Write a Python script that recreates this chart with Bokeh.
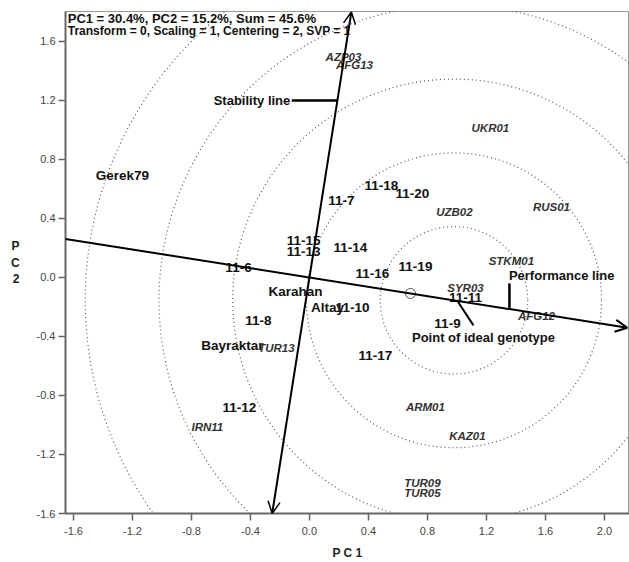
from bokeh.plotting import figure
from bokeh.models import Arrow, OpenHead, FixedTicker, PrintfTickFormatter, Range1d, ColumnDataSource
from bokeh.core.properties import value
from bokeh.embed import file_html
from bokeh.resources import INLINE

# ---------------- data ----------------
gen_names = ["Gerek79", "11-7", "11-18", "11-20", "11-15", "11-13", "11-14", "11-16",
             "11-19", "11-6", "Karahan", "Altay", "11-10", "11-11", "11-9", "11-17",
             "11-8", "Bayraktar", "11-12"]
gen_pc1 = [-1.268, 0.217, 0.488, 0.698, -0.040, -0.040, 0.278, 0.427,
           0.719, -0.481, -0.095, 0.122, 0.292, 1.058, 0.936, 0.447,
           -0.346, -0.522, -0.475]
gen_pc2 = [0.692, 0.522, 0.624, 0.569, 0.251, 0.176, 0.203, 0.027,
           0.075, 0.068, -0.095, -0.203, -0.203, -0.136, -0.312, -0.529,
           -0.292, -0.461, -0.881]

env_names = ["AZP03", "AFG13", "UKR01", "UZB02", "RUS01", "STKM01", "SYR03", "AFG12",
             "TUR13", "ARM01", "IRN11", "KAZ01", "TUR09", "TUR05"]
env_pc1 = [0.231, 0.305, 1.227, 0.983, 1.641, 1.369, 1.058, 1.539,
           -0.224, 0.786, -0.692, 1.071, 0.766, 0.766]
env_pc2 = [1.492, 1.437, 1.010, 0.441, 0.475, 0.115, -0.068, -0.258,
           -0.475, -0.881, -1.017, -1.078, -1.390, -1.464]

pc1_pct, pc2_pct = 30.4, 15.2
aea_slope = -0.158          # average environment axis through origin
avg_env_pc1 = 0.685         # small circle on the AEA
ideal_pc1 = 0.98            # ideal genotype (circle centre) on the AEA
circle_radii = [0.5, 1.0, 1.5, 2.0, 2.5]
x_ticks = [-1.6, -1.2, -0.8, -0.4, 0.0, 0.4, 0.8, 1.2, 1.6, 2.0]
y_ticks = [-1.6, -1.2, -0.8, -0.4, 0.0, 0.4, 0.8, 1.2, 1.6]

X0, X1 = -1.654, 2.170
Y0, Y1 = -1.6, 1.803

FONT = value("Liberation Sans")

p = figure(width=629, height=562, output_backend="svg", toolbar_location=None,
           x_range=Range1d(X0, X1), y_range=Range1d(Y0, Y1),
           min_border_left=65, min_border_right=0, min_border_top=11, min_border_bottom=49)
p.grid.visible = False
p.background_fill_color = "white"
p.outline_line_color = "#999999"
p.outline_line_width = 1

for ax, ticks in ((p.xaxis, x_ticks), (p.yaxis, y_ticks)):
    ax.ticker = FixedTicker(ticks=ticks)
    ax.formatter = PrintfTickFormatter(format="%.1f")
    ax.major_label_text_font = "Liberation Sans"
    ax.major_label_text_font_size = "11px"
    ax.major_label_text_color = "#444444"
    ax.axis_line_color = "#666666"
    ax.axis_line_width = 2
    ax.major_tick_line_color = "#666666"
    ax.major_tick_line_width = 1.5
    ax.major_tick_out = 7
    ax.major_tick_in = 0
    ax.minor_tick_line_color = None
    ax.axis_label_text_font = "Liberation Sans"
    ax.axis_label_text_font_size = "12px"
    ax.axis_label_text_font_style = "bold"
    ax.axis_label_text_color = "#222222"
p.xaxis.major_label_standoff = 6
p.yaxis.major_label_standoff = 3
p.xaxis.axis_label = "P C 1"
p.xaxis.axis_label_standoff = 8
p.yaxis.axis_label = "P\nC\n2"
p.yaxis.axis_label_orientation = "horizontal"
p.yaxis.axis_label_standoff = 14

# concentric circles around ideal genotype
ideal_pc2 = aea_slope * ideal_pc1
p.circle(x=[ideal_pc1] * len(circle_radii), y=[ideal_pc2] * len(circle_radii),
         radius=circle_radii, fill_color=None, line_color="#555555",
         line_width=1.2, line_dash="1 3")

# average environment axis (performance line)
x_start_aea = X0
x_end_aea = 2.155
p.add_layout(Arrow(end=OpenHead(size=12, line_width=2, line_color="black"),
                   x_start=x_start_aea, y_start=aea_slope * x_start_aea,
                   x_end=x_end_aea, y_end=aea_slope * x_end_aea,
                   line_width=2, line_color="black"))

# stability line (perpendicular through origin)
perp = -1.0 / aea_slope
p.add_layout(Arrow(start=OpenHead(size=12, line_width=1.5, line_color="black"),
                   end=OpenHead(size=12, line_width=1.5, line_color="black"),
                   x_start=Y0 / perp, y_start=Y0, x_end=1.80 / perp, y_end=1.80,
                   line_width=2, line_color="black"))

# average environment marker
p.scatter(x=[avg_env_pc1], y=[aea_slope * avg_env_pc1], size=10, marker="circle",
          fill_color="white", line_color="#555555", line_width=1)

# labels
gsrc = ColumnDataSource(dict(x=gen_pc1, y=gen_pc2, t=gen_names))
p.text(x="x", y="y", text="t", source=gsrc, text_font=FONT, text_font_size="13.5px",
       text_font_style="bold", text_color="#111111", text_align="center",
       text_baseline="middle")
esrc = ColumnDataSource(dict(x=env_pc1, y=env_pc2, t=env_names))
p.text(x="x", y="y", text="t", source=esrc, text_font=FONT, text_font_size="11.5px",
       text_font_style="bold italic", text_color="#333333", text_align="center",
       text_baseline="middle")

# annotation callouts
stab_y = 1.20
p.segment(x0=[-0.12], y0=[stab_y], x1=[stab_y / perp], y1=[stab_y],
          line_color="black", line_width=2.5)
p.text(x=[-0.13], y=[stab_y], text=["Stability line"], text_font=FONT,
       text_font_size="13px", text_font_style="bold", text_align="right",
       text_baseline="middle", text_color="#111111")

perf_x = 1.356
p.segment(x0=[perf_x], y0=[aea_slope * perf_x], x1=[perf_x], y1=[-0.04],
          line_color="black", line_width=2.5)
p.text(x=[1.71], y=[0.01], text=["Performance line"], text_font=FONT,
       text_font_size="13px", text_font_style="bold", text_align="center",
       text_baseline="middle", text_color="#111111")

p.segment(x0=[ideal_pc1 + 0.02], y0=[ideal_pc2], x1=[1.112], y1=[-0.325],
          line_color="black", line_width=2)
p.text(x=[1.18], y=[-0.407], text=["Point of ideal genotype"], text_font=FONT,
       text_font_size="13px", text_font_style="bold", text_align="center",
       text_baseline="middle", text_color="#111111")

# header texts
hdr1 = f"PC1 = {pc1_pct}%, PC2 = {pc2_pct}%, Sum = {round(pc1_pct + pc2_pct, 1)}%"
hdr2 = "Transform = 0, Scaling = 1, Centering = 2, SVP = 1"
p.text(x=[X0 + 0.015], y=[Y1 - 0.045], text=[hdr1],
       text_font=FONT, text_font_size="13px",
       text_font_style="bold", text_align="left", text_baseline="middle",
       text_color="#111111")
p.text(x=[X0 + 0.015], y=[Y1 - 0.135], text=[hdr2],
       text_font=FONT, text_font_size="12px",
       text_font_style="bold", text_align="left", text_baseline="middle",
       text_color="#111111")

open("out.html", "w").write(file_html(p, INLINE))
